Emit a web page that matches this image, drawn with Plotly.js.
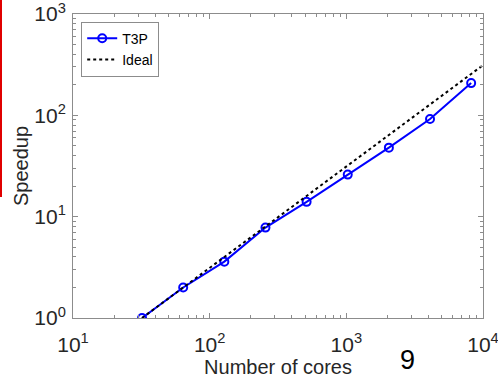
<!DOCTYPE html>
<html><head><meta charset="utf-8">
<script src="https://cdn.plot.ly/plotly-3.0.1.min.js"></script>
<style>body{margin:0;background:#fff}#plot{width:498px;height:379px}
#redbar{position:absolute;left:0;top:0;width:2px;height:197px;background:#e00000;z-index:5}</style>
</head><body>
<div id="redbar"></div>
<div id="plot"></div>
<script>
var cores = [32, 64, 128, 256, 512, 1024, 2048, 4096, 8192];
var speedupT3P = [1, 2, 3.6, 7.8, 14, 26, 48, 92, 208];
var idealCores = [32, 10000];
var idealSpeedup = [1, 312.5];
var xTickVals = [10, 100, 1000, 10000];
var xTickText = ['10<sup>1</sup>', '10<sup>2</sup>', '10<sup>3</sup>', '10<sup>4</sup>'];
var yTickVals = [1, 10, 100, 1000];
var yTickText = ['10<sup>0</sup>', '10<sup>1</sup>', '10<sup>2</sup>', '10<sup>3</sup>'];

function minorVals(lo, hi) {
  var v = [];
  for (var d = lo; d < hi; d *= 10) for (var k = 2; k <= 9; k++) v.push(d * k);
  return v;
}

var font = 'Liberation Sans, Arial, sans-serif';
var traces = [
  {x: cores, y: speedupT3P, name: 'T3P', mode: 'lines+markers', type: 'scatter',
   line: {color: '#0000ff', width: 2},
   marker: {symbol: 'circle-open', size: 8, color: '#0000ff', line: {width: 2, color: '#0000ff'}}},
  {x: idealCores, y: idealSpeedup, name: 'Ideal', mode: 'lines', type: 'scatter',
   line: {color: '#000000', width: 2, dash: 'dot'}}
];
var axisCommon = {
  type: 'log', showgrid: false, zeroline: false, showline: true, linecolor: '#8c8c8c', linewidth: 1,
  mirror: 'ticks', ticks: 'inside', ticklen: 5, tickcolor: '#8c8c8c', ticklabeloverflow: 'allow',
  tickfont: {family: font, size: 21, color: '#262626'}
};
var layout = {
  width: 498, height: 379,
  margin: {l: 73, r: 15, t: 14, b: 61},
  paper_bgcolor: '#fff', plot_bgcolor: '#fff',
  font: {family: font, color: '#262626'},
  showlegend: true,
  legend: {x: 0.02, y: 0.975, xanchor: 'left', yanchor: 'top', bgcolor: '#fff',
           bordercolor: '#8c8c8c', borderwidth: 1, font: {family: font, size: 14, color: '#000'},
           tracegroupgap: 0, itemwidth: 30},
  xaxis: Object.assign({}, axisCommon, {
    range: [1, 4], tickvals: xTickVals, ticktext: xTickText, tickmode: 'array', ticklabelstandoff: 8,
    minor: {tickvals: minorVals(10, 10000), ticks: 'inside', ticklen: 3, tickcolor: '#8c8c8c'},
    title: {text: 'Number of cores', font: {family: font, size: 20, color: '#262626'}, standoff: 0}
  }),
  yaxis: Object.assign({}, axisCommon, {
    range: [0, 3], tickvals: yTickVals, ticktext: yTickText, tickmode: 'array', ticklabelstandoff: 2,
    minor: {tickvals: minorVals(1, 1000), ticks: 'inside', ticklen: 3, tickcolor: '#8c8c8c'},
    title: {text: 'Speedup', font: {family: font, size: 20, color: '#262626'}, standoff: 0}
  }),
  annotations: [{text: '9', xref: 'paper', yref: 'paper', x: 0.815, y: -0.138, xanchor: 'center', yanchor: 'middle',
                 showarrow: false, font: {family: font, size: 27, color: '#000'}}]
};
Plotly.newPlot('plot', traces, layout, {displayModeBar: false, staticPlot: true});
</script>
</body></html>
